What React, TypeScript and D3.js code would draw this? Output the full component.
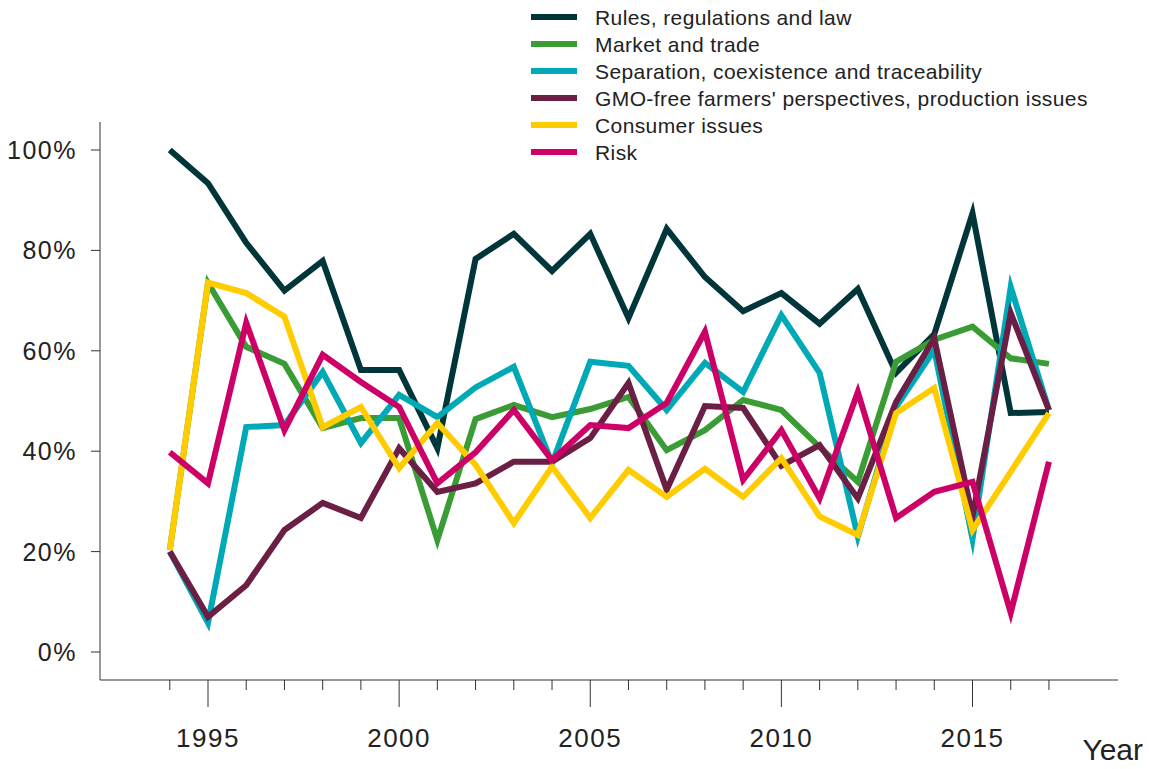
import React from "react";
import * as d3 from "d3";

const years = d3.range(1994, 2018);
const seriesNames = [
  "Rules, regulations and law",
  "Market and trade",
  "Separation, coexistence and traceability",
  "GMO-free farmers' perspectives, production issues",
  "Consumer issues",
  "Risk",
];
const colors = ["#00363a", "#3a9c35", "#00a9b6", "#6b1f45", "#ffcc00", "#cc0066"];

const rules = [100, 93.4, 81.5, 72, 77.9, 56.2, 56.2, 40.6, 78.3, 83.3, 75.9, 83.3, 66.5, 84.3, 74.7, 67.9, 71.5, 65.4, 72.3, 55.6, 63.3, 87.4, 47.6, 47.8];
const market = [20.3, 73.5, 60.8, 57.4, 44.6, 46.6, 46.6, 22.3, 46.4, 49.2, 46.8, 48.4, 50.8, 40.2, 44.2, 50.2, 48.2, 40.8, 33.9, 57.8, 62.2, 64.8, 58.5, 57.4];
const separation = [20, 5.8, 44.8, 45.2, 55.8, 41.6, 51.2, 46.8, 52.7, 56.8, 37.6, 57.8, 57, 48.2, 57.6, 51.8, 67.1, 55.6, 23, 48.8, 60.2, 22.5, 72.7, 48.2];
const gmoFree = [20, 7, 13.3, 24.3, 29.7, 26.7, 40.6, 31.9, 33.6, 37.9, 37.9, 42.6, 53.6, 32.3, 49, 48.6, 37.1, 41.2, 30.6, 49.8, 62.5, 27, 67.5, 48.2];
const consumer = [20.3, 73.6, 71.5, 66.8, 44.8, 48.8, 36.6, 45.6, 37.3, 25.7, 36.9, 26.7, 36.3, 30.9, 36.5, 30.9, 38.6, 27, 23.3, 47.6, 52.6, 24.3, 35.9, 47.6];
const risk = [39.8, 33.6, 65.6, 44.2, 59.2, 53.8, 48.8, 33.6, 39.8, 48.2, 38.2, 45.2, 44.6, 49.6, 63.8, 34.3, 44.2, 30.6, 51.8, 26.7, 31.9, 33.9, 7.8, 37.9];

const allSeries = [rules, market, separation, gmoFree, consumer, risk];
const yTicks = [0, 20, 40, 60, 80, 100];
const xMajor = [1995, 2000, 2005, 2010, 2015];

export default function App() {
  const W = 1149, H = 769;
  const x = d3.scaleLinear().domain([1995, 2015]).range([208, 972.5]);
  const y = d3.scaleLinear().domain([0, 100]).range([652, 150]);
  const line = d3
    .line<number>()
    .x((_, i) => x(years[i]))
    .y((d) => y(d));
  const font = "'Liberation Sans', Arial, Helvetica, sans-serif";
  const axisColor = "#333";
  const textColor = "#222";
  return (
    <svg width={W} height={H} style={{ position: "absolute", left: 0, top: 0 }} fontFamily={font}>
      {/* y axis */}
      <line x1={100} x2={100} y1={122} y2={680} stroke={axisColor} strokeWidth={1} />
      {yTicks.map((t) => (
        <g key={t}>
          <line x1={91} x2={100} y1={y(t)} y2={y(t)} stroke={axisColor} />
          <text x={77} y={y(t)} dy="0.36em" textAnchor="end" fontSize={25} letterSpacing={1.5} fill={textColor}>
            {t}%
          </text>
        </g>
      ))}
      {/* x axis */}
      <line x1={100} x2={1118} y1={680} y2={680} stroke={axisColor} strokeWidth={1} />
      {years.map((yr) => {
        const major = xMajor.includes(yr);
        return (
          <line key={yr} x1={x(yr)} x2={x(yr)} y1={680} y2={major ? 707 : 690} stroke={axisColor} />
        );
      })}
      {xMajor.map((yr) => (
        <text key={yr} x={x(yr)} y={747} textAnchor="middle" fontSize={26} letterSpacing={1.5} fill={textColor}>
          {yr}
        </text>
      ))}
      <text x={1143} y={760} textAnchor="end" fontSize={30} fill={textColor}>
        Year
      </text>
      {/* lines */}
      {allSeries.map((s, i) => (
        <path
          key={i}
          d={line(s) || ""}
          fill="none"
          stroke={colors[i]}
          strokeWidth={6}
          strokeLinejoin="miter"
          strokeMiterlimit={10}
        />
      ))}
      {/* legend */}
      {seriesNames.map((n, i) => (
        <g key={n} transform={`translate(531, ${17 + i * 27})`}>
          <line x1={0} x2={46} y1={0} y2={0} stroke={colors[i]} strokeWidth={6} />
          <text x={64} y={0} dy="0.36em" fontSize={21} letterSpacing={0.4} fill={textColor}>
            {n}
          </text>
        </g>
      ))}
    </svg>
  );
}
